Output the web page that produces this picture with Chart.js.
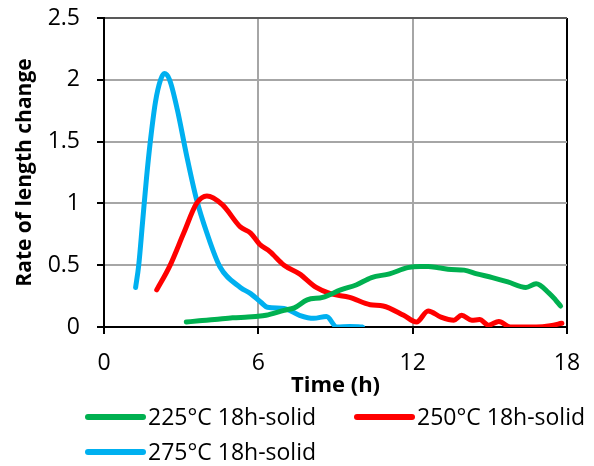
<!DOCTYPE html>
<html>
<head>
<meta charset="utf-8">
<script src="https://cdn.jsdelivr.net/npm/chart.js@4.4.1/dist/chart.umd.min.js"></script>
<style>
  html, body { margin: 0; padding: 0; background: #fff; }
  #wrap { width: 594px; height: 466px; }
</style>
</head>
<body>
<div id="wrap"><canvas id="grafico" width="594" height="466"></canvas></div>
<script>
// series labels and colours
const rotulos = ['225°C 18h-solid', '250°C 18h-solid', '275°C 18h-solid'];
const cores = ['#00B050', '#FF0000', '#00B0F0'];

// 225°C
const tempo225 = [3.2, 3.7, 4.3, 5.0, 5.6, 5.9, 6.3, 7.0, 7.4, 7.9, 8.5, 9.2, 9.8, 10.4, 11.1, 11.8, 12.3, 12.6, 13.0, 13.5, 14.0, 14.5, 15.1, 15.7, 16.4, 16.8, 17.3, 17.55, 17.75];
const taxa225 = [0.04, 0.05, 0.06, 0.075, 0.08, 0.085, 0.095, 0.135, 0.155, 0.22, 0.24, 0.30, 0.34, 0.40, 0.43, 0.48, 0.49, 0.49, 0.48, 0.465, 0.46, 0.43, 0.40, 0.365, 0.32, 0.35, 0.275, 0.22, 0.17];

// 250°C
const tempo250 = [2.05, 2.55, 3.1, 3.6, 4.0, 4.6, 5.3, 5.7, 6.05, 6.45, 7.0, 7.6, 8.25, 8.8, 9.55, 10.35, 10.85, 11.65, 12.15, 12.6, 13.1, 13.6, 13.9, 14.3, 14.6, 14.95, 15.35, 15.8, 16.2, 16.8, 17.35, 17.8];
const taxa250 = [0.30, 0.49, 0.76, 1.0, 1.06, 0.99, 0.81, 0.76, 0.67, 0.61, 0.50, 0.43, 0.32, 0.27, 0.24, 0.18, 0.17, 0.095, 0.04, 0.13, 0.08, 0.055, 0.095, 0.055, 0.06, 0.015, 0.045, 0.0, 0.0, 0.0, 0.01, 0.03];

// 275°C
const tempo275 = [1.23, 1.35, 1.5, 1.65, 1.8, 2.0, 2.2, 2.35, 2.55, 2.85, 3.2, 3.6, 4.0, 4.5, 5.3, 5.7, 6.1, 6.35, 7.0, 7.6, 8.15, 8.65, 9.05, 9.55, 10.05];
const taxa275 = [0.32, 0.5, 0.85, 1.2, 1.5, 1.82, 2.0, 2.05, 2.0, 1.76, 1.40, 1.03, 0.76, 0.49, 0.32, 0.27, 0.2, 0.16, 0.15, 0.095, 0.07, 0.085, 0.0, 0.005, 0.0];

// axis ticks
const ticksX = [0, 6, 12, 18];
const ticksY = [0, 0.5, 1, 1.5, 2, 2.5];

const fonte = "'Open Sans', 'Liberation Sans', sans-serif";

function pontos(tempos, valores) {
    return tempos.map((t, i) => ({ x: t, y: valores[i] }));
}

const series = [[tempo225, taxa225], [tempo250, taxa250], [tempo275, taxa275]];

const datasets = series.map((s, i) => ({
    label: rotulos[i],
    data: pontos(s[0], s[1]),
    borderColor: cores[i],
    backgroundColor: cores[i],
    borderWidth: 5,
    pointRadius: 0,
    fill: false,
    cubicInterpolationMode: 'monotone',
    borderCapStyle: 'round',
    borderJoinStyle: 'round'
}));

// legend drawn under the axes, two per row
const legendaPlugin = {
    id: 'legendaLinhas',
    afterDraw(chart) {
        const ctx = chart.ctx;
        const posicoes = [[88, 417], [357, 417], [88, 452]];
        ctx.save();
        ctx.font = '23px ' + fonte;
        ctx.textBaseline = 'middle';
        ctx.fillStyle = '#000';
        chart.data.datasets.forEach((ds, i) => {
            const [x, y] = posicoes[i];
            ctx.strokeStyle = ds.borderColor;
            ctx.lineWidth = 6;
            ctx.lineCap = 'round';
            ctx.beginPath();
            ctx.moveTo(x, y);
            ctx.lineTo(x + 55, y);
            ctx.stroke();
            ctx.fillText(ds.label, x + 60, y + 1);
        });
        ctx.restore();
    }
};

const ctx = document.getElementById('grafico').getContext('2d');
new Chart(ctx, {
    type: 'line',
    data: { datasets: datasets },
    plugins: [legendaPlugin],
    options: {
        responsive: false,
        animation: false,
        layout: { padding: { left: 0, right: 27, top: 18, bottom: 67 } },
        plugins: {
            legend: { display: false },
            tooltip: { enabled: false }
        },
        scales: {
            x: {
                type: 'linear',
                min: 0,
                max: 18,
                afterBuildTicks: (axis) => { axis.ticks = ticksX.map(v => ({ value: v })); },
                afterFit: (axis) => {
                    axis.height = 72;
                    axis.paddingLeft = 0;
                    axis.paddingRight = 0;
                },
                ticks: {
                    color: '#000',
                    font: { family: fonte, size: 23 },
                    padding: 16,
                    maxRotation: 0
                },
                grid: {
                    color: (c) => c.tick && c.tick.value === 18 ? '#000' : '#a6a6a6',
                    lineWidth: 2,
                    tickColor: '#000',
                    tickLength: 7
                },
                border: { color: '#000', width: 2 },
                title: {
                    display: true,
                    text: 'Time (h)',
                    color: '#000',
                    font: { family: fonte, size: 22, weight: 'bold' },
                    padding: { top: 0, bottom: 0 }
                }
            },
            y: {
                min: 0,
                max: 2.5,
                afterBuildTicks: (axis) => { axis.ticks = ticksY.map(v => ({ value: v })); },
                afterFit: (axis) => {
                    axis.width = 104;
                    axis.paddingTop = 0;
                    axis.paddingBottom = 0;
                },
                ticks: {
                    color: '#000',
                    font: { family: fonte, size: 23 },
                    padding: 17,
                    callback: (v) => String(v)
                },
                grid: {
                    color: (c) => c.tick && c.tick.value === 2.5 ? '#595959' : '#a6a6a6',
                    lineWidth: 2,
                    tickColor: '#000',
                    tickLength: 7
                },
                border: { color: '#000', width: 2 },
                title: {
                    display: true,
                    text: 'Rate of length change',
                    color: '#000',
                    font: { family: fonte, size: 21, weight: 'bold' },
                    padding: { top: 12, bottom: 0 }
                }
            }
        }
    }
});
</script>
</body>
</html>
